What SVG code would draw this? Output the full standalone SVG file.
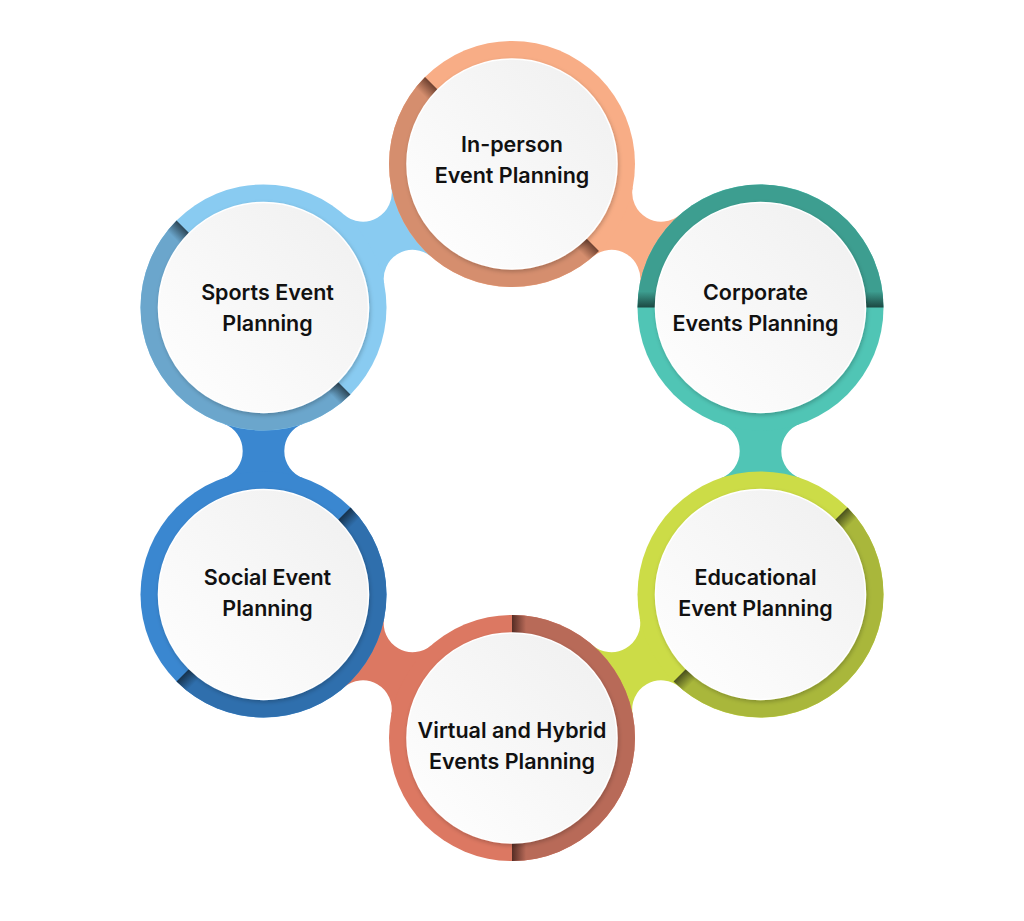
<svg xmlns="http://www.w3.org/2000/svg" width="1024" height="921" viewBox="0 0 1024 921">
  <defs>
    <style>
      .lbl { font-family: Inter, Lato, "Noto Sans", "DejaVu Sans", sans-serif; font-weight: 600; font-size: 21.5px; fill: #111111; text-anchor: middle; }
      .inner { fill: url(#whiteGrad); stroke: #ffffff; stroke-width: 1.5; filter: url(#innerShadow); }
    </style>
    <filter id="innerShadow" x="-20%" y="-20%" width="140%" height="140%">
      <feDropShadow dx="1" dy="2" stdDeviation="2" flood-color="#000000" flood-opacity="0.22"/>
    </filter>
    <linearGradient id="whiteGrad" x1="1" y1="0" x2="0" y2="1">
      <stop offset="0" stop-color="#EFEFEF"/>
      <stop offset="1" stop-color="#FFFFFF"/>
    </linearGradient>
    <path id="half" d="M -123,0 A 123 123 0 0 1 123,0 Z"/>
    <path id="bridge" d="M 116.1,-40.5 A 28.9 28.9 0 0 0 170.9,-40.5 L 170.9,40.5 A 28.9 28.9 0 0 0 116.1,40.5 Z"/>
    <linearGradient id="gTop" gradientUnits="userSpaceOnUse" x1="0" y1="0" x2="0" y2="-14">
      <stop offset="0" stop-color="#6E4130"/>
      <stop offset="1" stop-color="#D58E6E"/>
    </linearGradient>
    <linearGradient id="gCorp" gradientUnits="userSpaceOnUse" x1="0" y1="0" x2="0" y2="-16">
      <stop offset="0" stop-color="#1C4842"/>
      <stop offset="1" stop-color="#3D9E90"/>
    </linearGradient>
    <linearGradient id="gEdu" gradientUnits="userSpaceOnUse" x1="0" y1="0" x2="0" y2="-14">
      <stop offset="0" stop-color="#4A511E"/>
      <stop offset="1" stop-color="#A9B73B"/>
    </linearGradient>
    <linearGradient id="gVirt" gradientUnits="userSpaceOnUse" x1="0" y1="0" x2="0" y2="-14">
      <stop offset="0" stop-color="#552C24"/>
      <stop offset="1" stop-color="#B86A58"/>
    </linearGradient>
    <linearGradient id="gSocial" gradientUnits="userSpaceOnUse" x1="0" y1="0" x2="0" y2="-14">
      <stop offset="0" stop-color="#16324C"/>
      <stop offset="1" stop-color="#2F6FAD"/>
    </linearGradient>
    <linearGradient id="gSports" gradientUnits="userSpaceOnUse" x1="0" y1="0" x2="0" y2="-14">
      <stop offset="0" stop-color="#2C4656"/>
      <stop offset="1" stop-color="#6BA6CC"/>
    </linearGradient>
  </defs>

  <rect width="1024" height="921" fill="#ffffff"/>

  <g id="connectors">
    <use href="#bridge" fill="#F8AD86" transform="translate(512,164) rotate(30)"/>
    <use href="#bridge" fill="#50C5B5" transform="translate(760.5,307.5) rotate(90)"/>
    <use href="#bridge" fill="#CCDC47" transform="translate(760.5,594.5) rotate(150)"/>
    <use href="#bridge" fill="#DC7862" transform="translate(512,738) rotate(210)"/>
    <use href="#bridge" fill="#3A87D0" transform="translate(263.5,594.5) rotate(270)"/>
    <use href="#bridge" fill="#89CBF1" transform="translate(263.5,307.5) rotate(330)"/>
  </g>

  <g id="node-inperson" transform="translate(512,164)">
    <circle r="123" fill="#F8AD86"/>
    <use href="#half" fill="url(#gTop)" transform="rotate(225)"/>
    <circle r="105" class="inner"/>
    <text class="lbl" y="-12">In-person</text>
    <text class="lbl" y="19">Event Planning</text>
  </g>

  <g id="node-corporate" transform="translate(760.5,307.5)">
    <circle r="123" fill="#50C5B5"/>
    <use href="#half" fill="url(#gCorp)"/>
    <circle r="105" class="inner"/>
    <text class="lbl" x="-5" y="-7.5">Corporate</text>
    <text class="lbl" x="-5" y="23.5">Events Planning</text>
  </g>

  <g id="node-educational" transform="translate(760.5,594.5)">
    <circle r="123" fill="#CCDC47"/>
    <use href="#half" fill="url(#gEdu)" transform="rotate(135)"/>
    <circle r="105" class="inner"/>
    <text class="lbl" x="-5" y="-9.5">Educational</text>
    <text class="lbl" x="-5" y="21.5">Event Planning</text>
  </g>

  <g id="node-virtual" transform="translate(512,738)">
    <circle r="123" fill="#DC7862"/>
    <use href="#half" fill="url(#gVirt)" transform="rotate(90)"/>
    <circle r="105" class="inner"/>
    <text class="lbl" y="0">Virtual and Hybrid</text>
    <text class="lbl" y="31">Events Planning</text>
  </g>

  <g id="node-social" transform="translate(263.5,594.5)">
    <circle r="123" fill="#3A87D0"/>
    <use href="#half" fill="url(#gSocial)" transform="rotate(135)"/>
    <circle r="105" class="inner"/>
    <text class="lbl" x="4" y="-9.5">Social Event</text>
    <text class="lbl" x="4" y="21.5">Planning</text>
  </g>

  <g id="node-sports" transform="translate(263.5,307.5)">
    <circle r="123" fill="#89CBF1"/>
    <use href="#half" fill="url(#gSports)" transform="rotate(225)"/>
    <circle r="105" class="inner"/>
    <text class="lbl" x="4" y="-7.5">Sports Event</text>
    <text class="lbl" x="4" y="23.5">Planning</text>
  </g>
</svg>
